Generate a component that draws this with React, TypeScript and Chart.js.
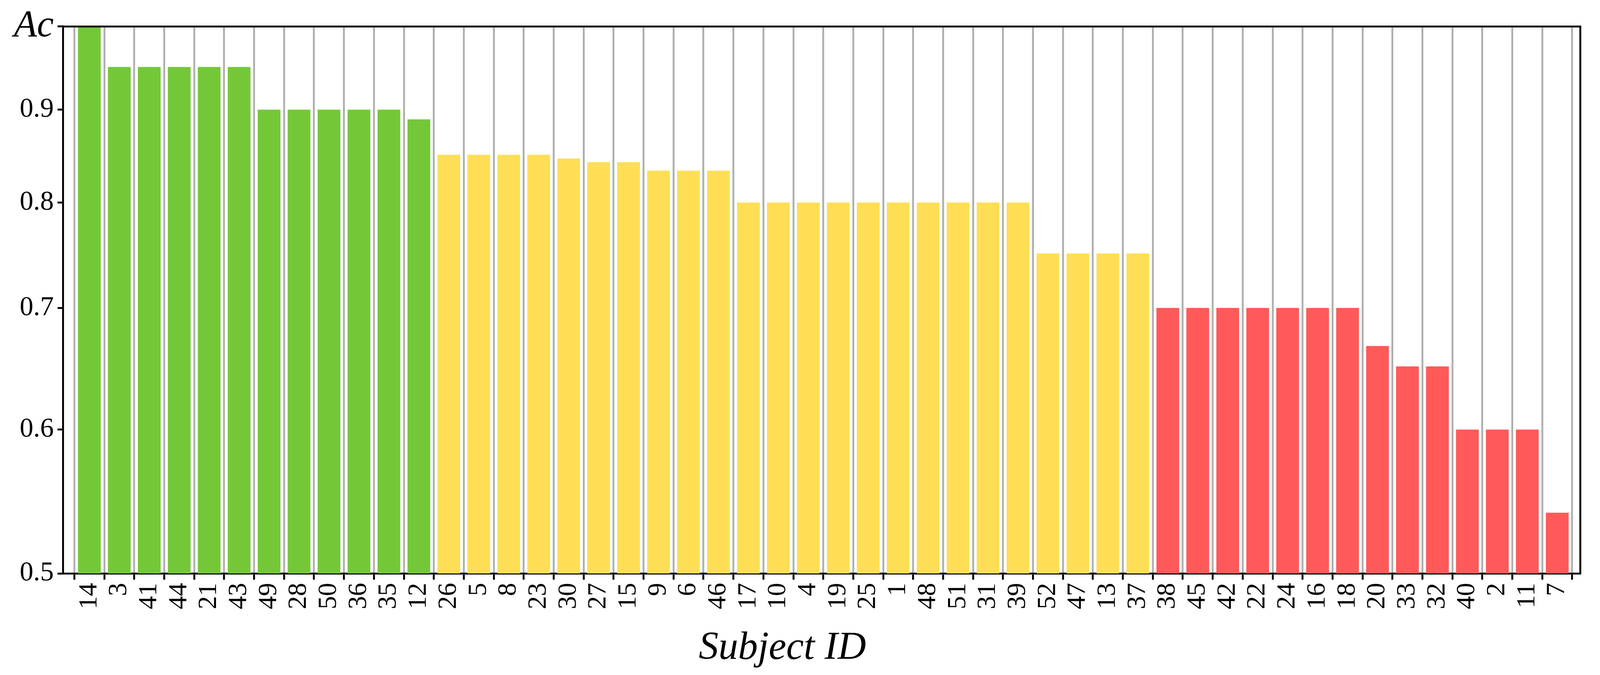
import React, { useEffect, useRef } from "react";
import { Chart, registerables, Plugin } from "chart.js";

Chart.register(...registerables);

// Subjects sorted by accuracy (as in the figure)
const subjectIds = [
  "14", "3", "41", "44", "21", "43", "49", "28", "50", "36", "35", "12",
  "26", "5", "8", "23", "30", "27", "15", "9", "6", "46",
  "17", "10", "4", "19", "25", "1", "48", "51", "31", "39",
  "52", "47", "13", "37",
  "38", "45", "42", "22", "24", "16", "18", "20", "33", "32", "40", "2", "11", "7",
];

const accuracy = [
  1.0, 0.95, 0.95, 0.95, 0.95, 0.95, 0.9, 0.9, 0.9, 0.9, 0.9, 0.889,
  0.85, 0.85, 0.85, 0.85, 0.846, 0.842, 0.842, 0.833, 0.833, 0.833,
  0.8, 0.8, 0.8, 0.8, 0.8, 0.8, 0.8, 0.8, 0.8, 0.8,
  0.75, 0.75, 0.75, 0.75,
  0.7, 0.7, 0.7, 0.7, 0.7, 0.7, 0.7, 0.667, 0.65, 0.65, 0.6, 0.6, 0.6, 0.54,
];

const yTicks = [0.5, 0.6, 0.7, 0.8, 0.9, 1.0];

const GREEN = "#74c838";
const YELLOW = "#fede55";
const RED = "#ff5959";
const FONT = '"Liberation Serif", "DejaVu Serif", serif';

// design size of the figure, sizes below are scaled from it
const DESIGN_W = 4226;
const DESIGN_H = 1728;

const colorFor = (v: number) => (v > 0.86 ? GREEN : v >= 0.75 ? YELLOW : RED);

const App: React.FC = () => {
  const chartRef = useRef<HTMLCanvasElement>(null);
  const chartInstance = useRef<Chart | null>(null);

  useEffect(() => {
    document.body.style.margin = "0";
    document.body.style.overflow = "hidden";
    if (!chartRef.current) return;

    if (chartInstance.current) {
      chartInstance.current.destroy();
    }

    const sx = window.innerWidth / DESIGN_W;
    const sy = window.innerHeight / DESIGN_H;
    const px = (v: number) => v * sx; // horizontal sizes, fonts, line widths
    const py = (v: number) => v * sy; // vertical positions

    // top/right spines and the italic x-axis label
    const framePlugin: Plugin = {
      id: "frame",
      afterDraw(chart) {
        const { ctx, chartArea } = chart;
        ctx.save();
        ctx.strokeStyle = "#000";
        ctx.lineWidth = px(5);
        ctx.beginPath();
        ctx.moveTo(chartArea.left, chartArea.top);
        ctx.lineTo(chartArea.right, chartArea.top);
        ctx.lineTo(chartArea.right, chartArea.bottom);
        ctx.stroke();

        ctx.fillStyle = "#000";
        ctx.font = `italic ${px(104)}px ${FONT}`;
        ctx.textAlign = "center";
        ctx.textBaseline = "alphabetic";
        ctx.fillText(
          "Subject ID",
          (chartArea.left + chartArea.right) / 2 - px(104),
          chartArea.bottom + py(219)
        );
        ctx.restore();
      },
    };

    chartInstance.current = new Chart(chartRef.current, {
      type: "bar",
      data: {
        datasets: [
          {
            label: "Ac",
            data: accuracy.map((v, i) => ({ x: i, y: v })),
            backgroundColor: accuracy.map(colorFor),
            borderWidth: 0,
            categoryPercentage: 1,
            barPercentage: 0.76,
          },
        ],
      },
      options: {
        animation: false,
        responsive: true,
        maintainAspectRatio: false,
        layout: {
          padding: { top: py(62), right: px(52), left: 0, bottom: 0 },
        },
        scales: {
          x: {
            type: "linear",
            min: -0.872,
            max: 49.77,
            offset: false,
            z: 1, // grid lines are drawn over the bars
            afterBuildTicks: (scale) => {
              scale.ticks = subjectIds.map((_, i) => ({ value: i }));
            },
            afterFit: (scale) => {
              scale.height = py(260);
            },
            grid: {
              color: "#b0b0b0",
              lineWidth: px(5),
              drawTicks: true,
              tickLength: py(16),
              tickWidth: px(5),
              tickColor: "#000",
            },
            border: { display: true, color: "#000", width: px(5) },
            ticks: {
              autoSkip: false,
              minRotation: 90,
              maxRotation: 90,
              padding: py(8),
              color: "#000",
              font: { family: FONT, size: px(70) },
              callback: (v) => subjectIds[Number(v)] ?? "",
            },
          },
          y: {
            type: "logarithmic",
            min: 0.5,
            max: 1.0,
            afterBuildTicks: (scale) => {
              scale.ticks = yTicks.map((value) => ({ value }));
            },
            afterFit: (scale) => {
              scale.width = px(167);
            },
            grid: {
              drawOnChartArea: false,
              drawTicks: true,
              tickLength: px(15),
              tickWidth: px(5),
              tickColor: "#000",
            },
            border: { display: true, color: "#000", width: px(5) },
            ticks: {
              color: "#000",
              padding: px(10),
              callback: (v) => (Number(v) === 1 ? "Ac" : Number(v).toFixed(1)),
              font: (ctx: any) =>
                ctx.tick && ctx.tick.value === 1
                  ? { family: FONT, size: px(100), style: "italic" }
                  : { family: FONT, size: px(72) },
            },
          },
        },
        plugins: {
          legend: { display: false },
          tooltip: { enabled: false },
        },
      },
      plugins: [framePlugin],
    });

    return () => {
      if (chartInstance.current) {
        chartInstance.current.destroy();
        chartInstance.current = null;
      }
    };
  }, []);

  return (
    <div style={{ position: "relative", width: "100vw", height: "100vh", background: "#fff" }}>
      <canvas ref={chartRef} />
    </div>
  );
};

export default App;
